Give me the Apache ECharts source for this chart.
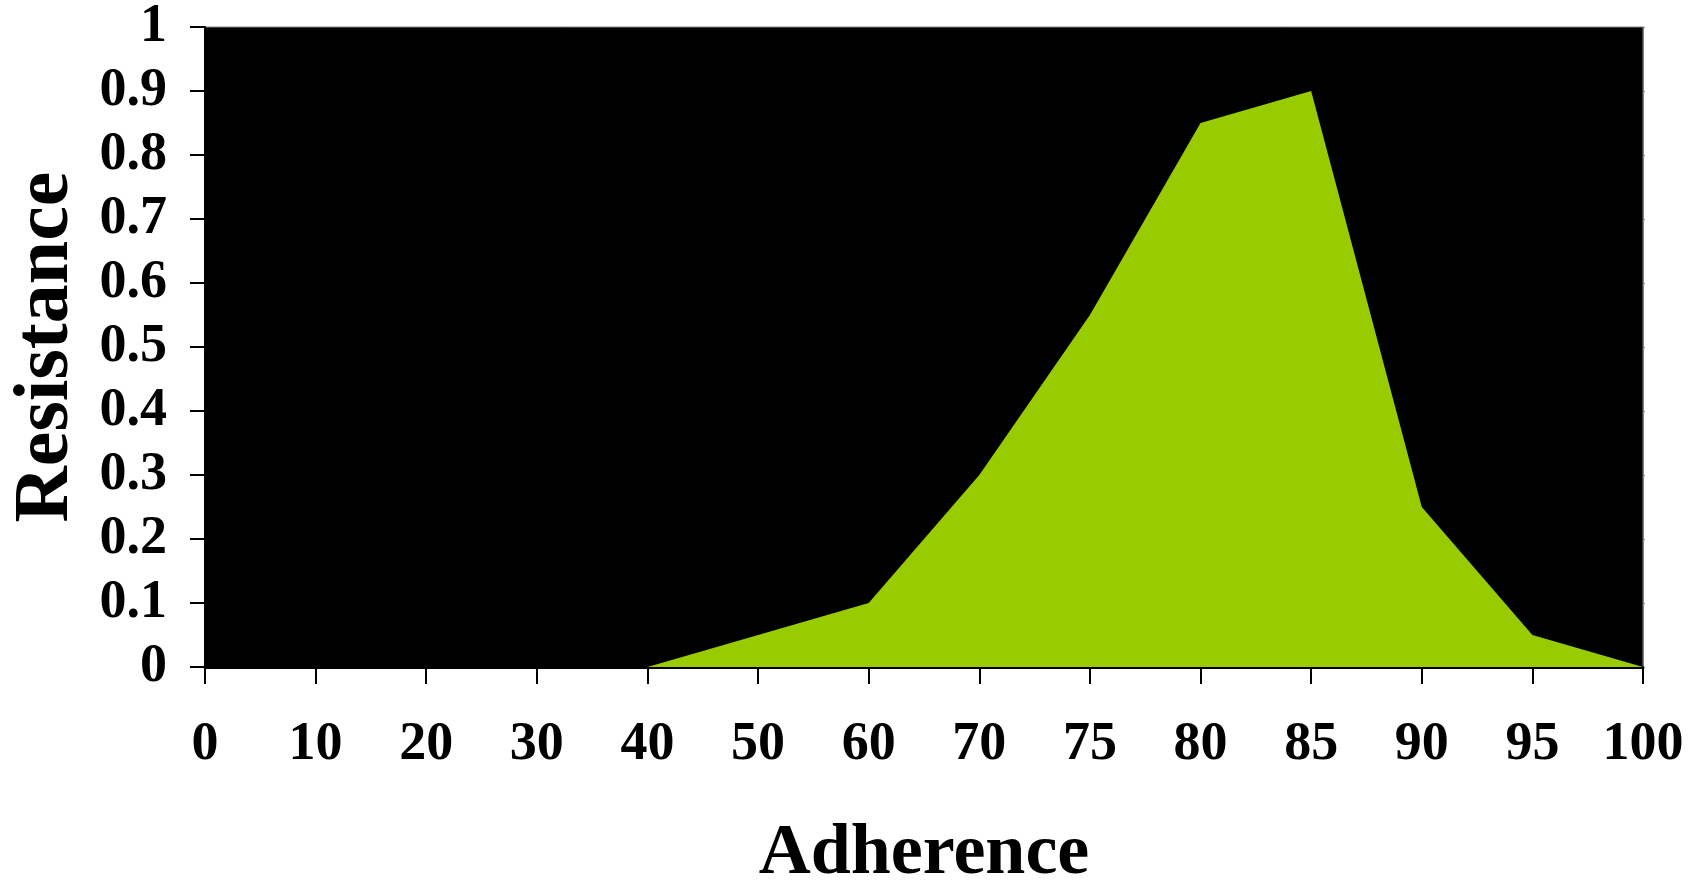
<!DOCTYPE html>
<html>
<head>
<meta charset="utf-8">
<script src="https://cdn.jsdelivr.net/npm/echarts@6/dist/echarts.min.js"></script>
<style>
html,body{margin:0;padding:0;background:#fff;}
#chart{width:1697px;height:895px;}
</style>
</head>
<body>
<div id="chart"></div>
<script>
const categories = ['0','10','20','30','40','50','60','70','75','80','85','90','95','100'];
const resistance = [0, 0, 0, 0, 0, 0.05, 0.1, 0.3, 0.55, 0.85, 0.9, 0.25, 0.05, 0];
const yTicks = [0, 0.1, 0.2, 0.3, 0.4, 0.5, 0.6, 0.7, 0.8, 0.9, 1];

const font = '"Liberation Serif", "Times New Roman", serif';
const fmt = function (v) {
  const t = yTicks.find(function (x) { return Math.abs(x - v) < 1e-9; });
  return t === undefined ? '' : String(t);
};
const chart = echarts.init(document.getElementById('chart'));
chart.setOption({
  animation: false,
  backgroundColor: '#ffffff',
  grid: {
    left: 200, right: 54, top: 25, bottom: 220,
    show: true, backgroundColor: '#000000', borderColor: '#808080', borderWidth: 1
  },
  xAxis: {
    type: 'category',
    data: categories,
    boundaryGap: false,
    name: 'Adherence',
    nameLocation: 'middle',
    nameGap: 151,
    nameTextStyle: { fontFamily: font, fontWeight: 'bold', fontSize: 72, color: '#000' },
    axisLine: { show: true, lineStyle: { color: '#000', width: 3 } },
    axisTick: { show: true, alignWithLabel: true, interval: 0, length: 17, lineStyle: { color: '#000', width: 2 } },
    axisLabel: { interval: 0, margin: 51, fontFamily: font, fontWeight: 'bold', fontSize: 54, color: '#000' },
    splitLine: { show: false }
  },
  yAxis: [{
    type: 'value',
    min: 0, max: 1, interval: 0.1,
    name: 'Resistance',
    nameLocation: 'middle',
    nameGap: 119,
    nameRotate: 90,
    nameTextStyle: { fontFamily: font, fontWeight: 'bold', fontSize: 78, color: '#000' },
    axisLine: { show: true, lineStyle: { color: '#000', width: 2 } },
    axisTick: { show: true, length: 15, lineStyle: { color: '#000', width: 2 } },
    axisLabel: { margin: 38, fontFamily: font, fontWeight: 'bold', fontSize: 54, color: '#000', formatter: fmt },
    splitLine: { show: false }
  }, {
    type: 'value',
    position: 'right',
    min: 0, max: 1, interval: 0.1,
    axisLine: { show: true, lineStyle: { color: '#808080', width: 1 } },
    axisTick: { show: true, length: 2, lineStyle: { color: '#808080', width: 1 } },
    axisLabel: { show: false },
    splitLine: { show: false }
  }],
  series: [{
    type: 'line',
    data: resistance,
    symbol: 'none',
    lineStyle: { width: 0 },
    areaStyle: { color: '#99CC00', opacity: 1 }
  }]
});
</script>
</body>
</html>
